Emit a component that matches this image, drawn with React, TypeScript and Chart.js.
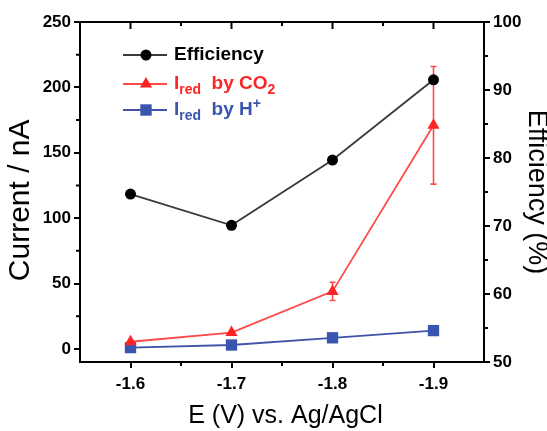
import React, { useEffect, useRef } from 'react';
import { Chart, registerables } from 'chart.js';

Chart.register(...registerables);

const potentials = ['-1.6', '-1.7', '-1.8', '-1.9'];
const efficiency = [74.7, 70.1, 79.7, 91.5];
const co2Current = [5.5, 12.5, 44, 171];
const co2Error = [0, 0, 7, 45];
const hCurrent = [1, 3, 8.5, 14];
const currentTicks = [0, 50, 100, 150, 200, 250];
const efficiencyTicks = [50, 60, 70, 80, 90, 100];

const BLACK = '#000000';
const LINE_BLACK = '#3a3a3a';
const RED = '#ff2424';
const RED_LINE = '#ff4a4a';
const BLUE = '#3a55b0';
const BLUE_LINE = '#4252aa';
const FONT = '"Liberation Sans", Arial, sans-serif';

function midpoints(arr: number[]) {
  const out: number[] = [];
  for (let i = 0; i < arr.length - 1; i++) out.push((arr[i] + arr[i + 1]) / 2);
  return out;
}

const framePlugin = {
  id: 'frame',
  beforeDatasetsDraw(chart: any) {
    const ctx = chart.ctx;
    const meta = chart.getDatasetMeta(1);
    const ys = chart.scales.y;
    ctx.save();
    ctx.strokeStyle = RED_LINE;
    ctx.lineWidth = 1.6;
    meta.data.forEach((pt: any, i: number) => {
      const e = co2Error[i];
      if (!e) return;
      const yTop = ys.getPixelForValue(co2Current[i] + e);
      const yBot = ys.getPixelForValue(co2Current[i] - e);
      ctx.beginPath();
      ctx.moveTo(pt.x, yTop);
      ctx.lineTo(pt.x, yBot);
      ctx.moveTo(pt.x - 3, yTop);
      ctx.lineTo(pt.x + 3, yTop);
      ctx.moveTo(pt.x - 3, yBot);
      ctx.lineTo(pt.x + 3, yBot);
      ctx.stroke();
    });
    ctx.restore();
  },
  afterDraw(chart: any) {
    const ctx = chart.ctx;
    const { left, right, top, bottom } = chart.chartArea;
    const xs = chart.scales.x;
    const ys = chart.scales.y;
    const y2 = chart.scales.y2;
    ctx.save();
    ctx.strokeStyle = BLACK;
    ctx.lineWidth = 2;
    ctx.beginPath();
    ctx.moveTo(left - 1, top);
    ctx.lineTo(right + 1, top);
    ctx.stroke();
    const catPx = potentials.map((_, i) => xs.getPixelForValue(i));
    ctx.beginPath();
    catPx.forEach((px) => {
      ctx.moveTo(px, top);
      ctx.lineTo(px, top + 7);
    });
    midpoints(catPx).forEach((px) => {
      ctx.moveTo(px, top);
      ctx.lineTo(px, top + 4);
      ctx.moveTo(px, bottom);
      ctx.lineTo(px, bottom + 4);
    });
    midpoints(currentTicks).forEach((v) => {
      const py = ys.getPixelForValue(v);
      ctx.moveTo(left, py);
      ctx.lineTo(left - 4, py);
    });
    midpoints(efficiencyTicks).forEach((v) => {
      const py = y2.getPixelForValue(v);
      ctx.moveTo(right, py);
      ctx.lineTo(right + 4, py);
    });
    ctx.stroke();

    const rows = [
      { y: 55, color: BLACK, line: LINE_BLACK, marker: 'circle', parts: [{ t: 'Efficiency', s: 19, dy: 0 }] },
      {
        y: 84, color: RED, line: RED_LINE, marker: 'triangle',
        parts: [{ t: 'I', s: 19, dy: 0 }, { t: 'red', s: 14, dy: 6 }, { t: '  by CO', s: 19, dy: 0 }, { t: '2', s: 14, dy: 6 }],
      },
      {
        y: 110, color: BLUE, line: BLUE_LINE, marker: 'rect',
        parts: [{ t: 'I', s: 19, dy: 0 }, { t: 'red', s: 14, dy: 6 }, { t: '  by H', s: 19, dy: 0 }, { t: '+', s: 14, dy: -6 }],
      },
    ];
    rows.forEach((r) => {
      ctx.strokeStyle = r.line;
      ctx.lineWidth = 1.8;
      ctx.beginPath();
      ctx.moveTo(123, r.y);
      ctx.lineTo(167, r.y);
      ctx.stroke();
      ctx.fillStyle = r.color;
      const cx = 146;
      ctx.beginPath();
      if (r.marker === 'circle') {
        ctx.arc(cx, r.y, 5.5, 0, Math.PI * 2);
      } else if (r.marker === 'triangle') {
        ctx.moveTo(cx, r.y - 7);
        ctx.lineTo(cx + 6.1, r.y + 3.5);
        ctx.lineTo(cx - 6.1, r.y + 3.5);
        ctx.closePath();
      } else {
        ctx.rect(cx - 5.7, r.y - 5.7, 11.4, 11.4);
      }
      ctx.fill();
      let x = 174;
      ctx.textBaseline = 'middle';
      ctx.textAlign = 'left';
      r.parts.forEach((p) => {
        ctx.font = `bold ${p.s}px ${FONT}`;
        ctx.fillText(p.t, x, r.y + p.dy);
        x += ctx.measureText(p.t).width;
      });
    });
    ctx.restore();
  },
};

export default function App() {
  const ref = useRef<HTMLCanvasElement | null>(null);
  useEffect(() => {
    if (!ref.current) return;
    const tickFont = { family: FONT, weight: 'bold' as const, size: 17 };
    const chart = new Chart(ref.current, {
      type: 'line',
      data: {
        labels: potentials,
        datasets: [
          {
            label: 'Efficiency',
            data: efficiency,
            yAxisID: 'y2',
            borderColor: LINE_BLACK,
            borderWidth: 1.8,
            pointStyle: 'circle',
            pointRadius: 5.5,
            pointBackgroundColor: BLACK,
            pointBorderColor: BLACK,
            pointBorderWidth: 0,
          },
          {
            label: 'Ired by CO2',
            data: co2Current,
            yAxisID: 'y',
            borderColor: RED_LINE,
            borderWidth: 1.8,
            pointStyle: 'triangle',
            pointRadius: 7,
            pointBackgroundColor: RED,
            pointBorderColor: RED,
            pointBorderWidth: 0,
          },
          {
            label: 'Ired by H+',
            data: hCurrent,
            yAxisID: 'y',
            borderColor: BLUE_LINE,
            borderWidth: 1.8,
            pointStyle: 'rect',
            pointRadius: 8,
            pointBackgroundColor: BLUE,
            pointBorderColor: BLUE,
            pointBorderWidth: 0,
          },
        ],
      },
      options: {
        animation: false,
        responsive: false,
        devicePixelRatio: 1,
        layout: { padding: { top: 22, left: 0, right: 0, bottom: 0 } },
        plugins: { legend: { display: false }, tooltip: { enabled: false } },
        scales: {
          x: {
            type: 'category',
            offset: true,
            grid: { offset: false, drawOnChartArea: false, drawTicks: true, tickLength: 6, color: BLACK, lineWidth: 2 },
            border: { color: BLACK, width: 2 },
            ticks: { font: tickFont, color: BLACK, padding: 6, maxRotation: 0 },
            title: { display: true, text: ' E (V) vs. Ag/AgCl', font: { family: FONT, size: 25, lineHeight: 1.2 }, color: BLACK, padding: { top: 0, bottom: 0 } },
            afterFit: (s: any) => { s.height = 69; },
          },
          y: {
            type: 'linear',
            position: 'left',
            min: -10,
            max: 250,
            afterBuildTicks: (s: any) => { s.ticks = currentTicks.map((v) => ({ value: v })); },
            grid: { drawOnChartArea: false, drawTicks: true, tickLength: 6, color: BLACK, lineWidth: 2 },
            border: { color: BLACK, width: 2 },
            ticks: { font: tickFont, color: BLACK, padding: 3 },
            title: { display: true, text: 'Current / nA  ', font: { family: FONT, size: 30, lineHeight: 1.2 }, color: BLACK, padding: { top: 3, bottom: 0 } },
            afterFit: (s: any) => { s.width = 80; },
          },
          y2: {
            type: 'linear',
            position: 'right',
            min: 50,
            max: 100,
            afterBuildTicks: (s: any) => { s.ticks = efficiencyTicks.map((v) => ({ value: v })); },
            grid: { drawOnChartArea: false, drawTicks: true, tickLength: 6, color: BLACK, lineWidth: 2 },
            border: { color: BLACK, width: 2 },
            ticks: { font: tickFont, color: BLACK, padding: 3 },
            title: { display: true, text: 'Efficiency (%)', font: { family: FONT, size: 27, lineHeight: 0.8 }, color: BLACK, padding: { top: 0, bottom: 0 } },
            afterFit: (s: any) => { s.width = 63; },
          },
        },
      },
      plugins: [framePlugin],
    } as any);
    return () => chart.destroy();
  }, []);
  return (
    <div style={{ position: 'fixed', left: 0, top: 0, width: 547, height: 431, background: '#fff' }}>
      <canvas ref={ref} width={547} height={431} style={{ width: 547, height: 431 }} />
    </div>
  );
}
